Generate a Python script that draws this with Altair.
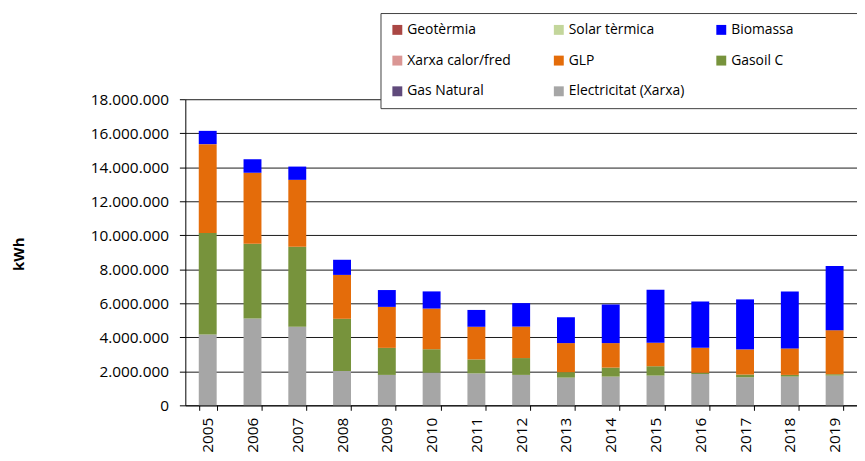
import altair as alt
import pandas as pd

years = [str(y) for y in range(2005, 2020)]

categories = ["Geotèrmia", "Solar tèrmica", "Biomassa",
              "Xarxa calor/fred", "GLP", "Gasoil C",
              "Gas Natural", "Electricitat (Xarxa)"]
colors = ["#AA4744", "#C3D69B", "#0000FF",
          "#DA9694", "#E46C0A", "#77933C",
          "#604A7B", "#A6A6A6"]

# kWh values per source
electricitat = [4160000, 5110000, 4620000, 2020000, 1790000, 1920000, 1880000, 1790000,
                1630000, 1690000, 1750000, 1850000, 1650000, 1690000, 1750000]
gasoil_c = [5980000, 4390000, 4700000, 3070000, 1590000, 1380000, 820000, 990000,
            320000, 530000, 550000, 60000, 160000, 100000, 80000]
glp = [5220000, 4170000, 3940000, 2580000, 2410000, 2390000, 1920000, 1850000,
       1710000, 1440000, 1380000, 1480000, 1480000, 1560000, 2590000]
biomassa = [780000, 800000, 780000, 890000, 990000, 1010000, 990000, 1380000,
            1520000, 2270000, 3110000, 2720000, 2940000, 3340000, 3770000]

series = [("Electricitat (Xarxa)", electricitat, 0),
          ("Gasoil C", gasoil_c, 1),
          ("GLP", glp, 2),
          ("Biomassa", biomassa, 3)]

rows = []
for name, vals, order in series:
    for yr, v in zip(years, vals):
        rows.append({"Any": yr, "Font": name, "kWh": v, "ord": order})
df = pd.DataFrame(rows)

FONT = "Open Sans"
NB = "\u00a0"
ZW = "\u200b"
# trailing blanks (closed by a zero-width space so they are not trimmed)
# only widen the legend frame, like the reference box
legend_label_expr = (
    "datum.value == 'Biomassa' ? 'Biomassa" + NB * 16 + ZW + "' : "
    "datum.value == 'Xarxa calor/fred' ? 'Xarxa calor/fred" + NB * 3 + ZW + "' : datum.label"
)

chart = alt.Chart(df).mark_bar().encode(
    x=alt.X("Any:N", sort=years,
            scale=alt.Scale(paddingInner=0.6, paddingOuter=0.3),
            axis=alt.Axis(title=None, labelAngle=-90, labelFontSize=15.5,
                          labelFont=FONT, labelColor="#000", tickBand="extent",
                          tickSize=5, tickColor="#000", domainColor="#000",
                          labelPadding=7, grid=False)),
    y=alt.Y("kWh:Q", stack="zero",
            scale=alt.Scale(domain=[0, 18000000], nice=False),
            axis=alt.Axis(title="kWh", values=list(range(0, 18000001, 2000000)),
                          labelExpr="replace(format(datum.value, ','), regexp(',', 'g'), '.')",
                          labelFontSize=15.5, labelFont=FONT, labelColor="#000",
                          tickSize=6, tickColor="#000", domainColor="#000",
                          labelPadding=11, grid=True, gridColor="#1a1a1a",
                          gridWidth=1, titleFont=FONT, titleFontSize=15,
                          titleFontWeight="bold", titleColor="#000",
                          titleX=-163, titleY=156, titleAlign="center",
                          titleAngle=270, titleBaseline="alphabetic")),
    color=alt.Color("Font:N",
                    scale=alt.Scale(domain=categories, range=colors),
                    legend=alt.Legend(title=None, orient="none", legendX=197,
                                      legendY=-87, columns=3, direction="horizontal",
                                      gridAlign="each", labelExpr=legend_label_expr,
                                      columnPadding=30, rowPadding=17,
                                      symbolType="square", symbolSize=100,
                                      symbolStrokeWidth=0, labelFont=FONT,
                                      labelFontSize=14, labelColor="#000",
                                      labelOffset=3, padding=10, labelLimit=400,
                                      fillColor="#FFFFFF", strokeColor="#404040")),
    order=alt.Order("ord:Q", sort="ascending"),
).properties(
    width=678, height=309,
    autosize=alt.AutoSizeParams(type="none"),
    padding={"left": 179, "top": 90, "right": 0, "bottom": 45},
).configure_view(stroke=None)

chart.save("out.html", embed_options={"renderer": "svg", "actions": False})
